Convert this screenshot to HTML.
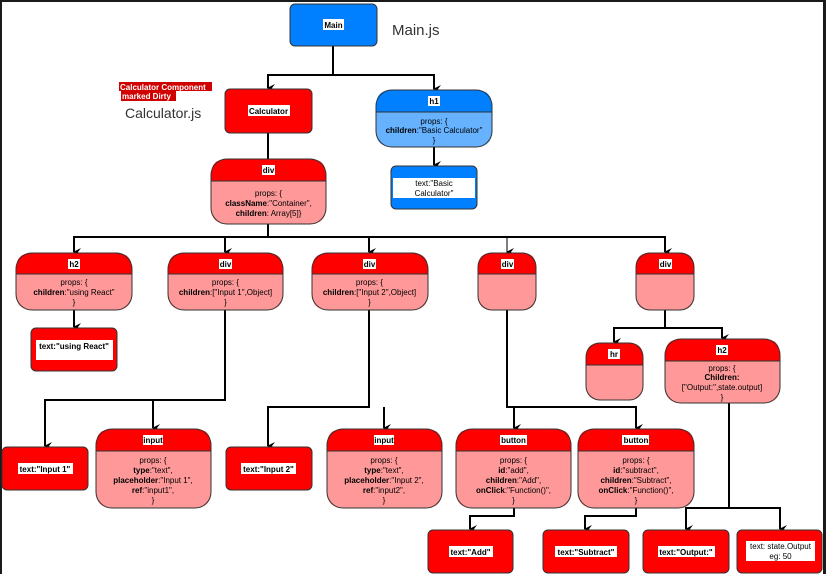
<!DOCTYPE html>
<html><head><meta charset="utf-8">
<style>
html,body{margin:0;padding:0;}
body{width:826px;height:574px;background:#1a1a1a;position:relative;overflow:hidden;font-family:"Liberation Sans",sans-serif;}
#wrap{position:absolute;left:2px;top:2px;width:821px;height:572px;background:#fff;}
svg{position:absolute;left:0;top:0;}
</style></head><body>
<div id="wrap"></div>
<svg width="826" height="574" viewBox="0 0 826 574" font-family="Liberation Sans, sans-serif">
<defs>
<marker id="a" markerWidth="8" markerHeight="8" refX="4" refY="7" orient="auto" markerUnits="userSpaceOnUse"><path d="M0,0 L4,3 L8,0 L4,8 Z" fill="#000"/></marker>
</defs>
<g stroke="#000" stroke-width="2" fill="none">
<path d="M333,46 V75 H268 V88" marker-end="url(#a)"/>
<path d="M333,75 H434 V89" marker-end="url(#a)"/>
<path d="M268,133 V159"/>
<path d="M434,147 V165" marker-end="url(#a)"/>
<path d="M268,224 V237 H74 V252" marker-end="url(#a)"/>
<path d="M268,237 H665 V252" marker-end="url(#a)"/>
<path d="M225,237 V252" marker-end="url(#a)"/>
<path d="M369,237 V252" marker-end="url(#a)"/>
<path d="M507,237 V252" stroke-width="1" marker-end="url(#a)"/>
<path d="M74,310 V327" marker-end="url(#a)"/>
<path d="M225,310 V400 H45 V446" marker-end="url(#a)"/>
<path d="M153,400 V428" marker-end="url(#a)"/>
<path d="M369,310 V407 H268 V446" marker-end="url(#a)"/>
<path d="M384,407 V428" marker-end="url(#a)"/>
<path d="M507,310 V407 H636 V428" marker-end="url(#a)"/>
<path d="M514,407 V428" marker-end="url(#a)"/>
<path d="M514,508 V516 H470 V529" marker-end="url(#a)"/>
<path d="M636,508 V516 H585 V529" marker-end="url(#a)"/>
<path d="M665,310 V328 H614 V342" marker-end="url(#a)"/>
<path d="M665,328 H722 V338" marker-end="url(#a)"/>
<path d="M722,403 V403 M729,403 V508 H686 V529" marker-end="url(#a)"/>
<path d="M729,508 H780 V529" marker-end="url(#a)"/>
</g>

<!-- Main -->
<rect x="290" y="4" width="87" height="42" rx="5" fill="#007fff" stroke="#333"/>
<rect x="323" y="19" width="21" height="11" fill="#fff"/>
<text x="333.5" y="28" font-size="8" font-weight="bold" text-anchor="middle">Main</text>
<text x="392" y="35" font-size="15" fill="#333">Main.js</text>

<!-- Calculator label -->
<rect x="119" y="82" width="93" height="9" fill="#d00000"/>
<rect x="121" y="91" width="55" height="10" fill="#d00000"/>
<text x="120" y="90" font-size="8" font-weight="bold" fill="#fff">Calculator Component</text>
<text x="122" y="99" font-size="8" font-weight="bold" fill="#fff">marked Dirty</text>
<text x="125" y="118" font-size="14" fill="#333">Calculator.js</text>

<rect x="225" y="89" width="87" height="44" rx="5" fill="#ff0000" stroke="#333"/>
<rect x="248" y="105" width="42" height="11" fill="#fff"/>
<text x="268.5" y="114" font-size="8" font-weight="bold" text-anchor="middle">Calculator</text>

<!-- node helper drawn manually -->
<g font-size="8" text-anchor="middle">
<!-- div main -->
<path d="M227,159 H310 Q326,159 326,175 V181 H211 V175 Q211,159 227,159 Z" fill="#ff0000"/>
<path d="M211,181 H326 V208 Q326,224 310,224 H227 Q211,224 211,208 Z" fill="#ff9999"/>
<rect x="211" y="159" width="115" height="65" rx="16" fill="none" stroke="#333"/>
<line x1="211" y1="181" x2="326" y2="181" stroke="#333"/>
<rect x="262" y="165" width="13" height="10" fill="#fff"/><text x="268.5" y="173" font-weight="bold">div</text>
<text x="268.5" y="196">props: {</text>
<text x="268.5" y="206"><tspan font-weight="bold">className</tspan>:"Container",</text>
<text x="268.5" y="216"><tspan font-weight="bold">children</tspan>: Array[5]}</text>

<!-- h1 -->
<path d="M392,90 H476 Q492,90 492,106 V112 H376 V106 Q376,90 392,90 Z" fill="#007fff"/>
<path d="M376,112 H492 V131 Q492,147 476,147 H392 Q376,147 376,131 Z" fill="#66b2ff"/>
<rect x="376" y="90" width="116" height="57" rx="16" fill="none" stroke="#333"/>
<line x1="376" y1="112" x2="492" y2="112" stroke="#333"/>
<rect x="428" y="96" width="12" height="10" fill="#fff"/><text x="434" y="104" font-weight="bold">h1</text>
<text x="434" y="124">props: {</text>
<text x="434" y="133"><tspan font-weight="bold">children</tspan>:"Basic Calculator"</text>
<text x="434" y="143">}</text>

<rect x="391" y="166" width="86" height="43" rx="5" fill="#007fff" stroke="#333"/>
<rect x="393" y="178" width="82" height="20" fill="#fff"/>
<text x="434" y="186">text:"Basic</text>
<text x="434" y="196">Calculator"</text>

<!-- row 2 -->
<path d="M32,253 H116 Q132,253 132,269 V274 H16 V269 Q16,253 32,253 Z" fill="#ff0000"/>
<path d="M16,274 H132 V294 Q132,310 116,310 H32 Q16,310 16,294 Z" fill="#ff9999"/>
<rect x="16" y="253" width="116" height="57" rx="16" fill="none" stroke="#333"/>
<line x1="16" y1="274" x2="132" y2="274" stroke="#333"/>
<rect x="68" y="259" width="12" height="10" fill="#fff"/><text x="74" y="267" font-weight="bold">h2</text>
<text x="74" y="285">props: {</text>
<text x="74" y="295"><tspan font-weight="bold">children</tspan>:"using React"</text>
<text x="74" y="305">}</text>

<path d="M184,253 H267 Q283,253 283,269 V274 H168 V269 Q168,253 184,253 Z" fill="#ff0000"/>
<path d="M168,274 H283 V294 Q283,310 267,310 H184 Q168,310 168,294 Z" fill="#ff9999"/>
<rect x="168" y="253" width="115" height="57" rx="16" fill="none" stroke="#333"/>
<line x1="168" y1="274" x2="283" y2="274" stroke="#333"/>
<rect x="219" y="259" width="13" height="10" fill="#fff"/><text x="225.5" y="267" font-weight="bold">div</text>
<text x="225.5" y="285">props: {</text>
<text x="225.5" y="295"><tspan font-weight="bold">children</tspan>:["Input 1",Object]</text>
<text x="225.5" y="305">}</text>

<path d="M328,253 H412 Q428,253 428,269 V274 H312 V269 Q312,253 328,253 Z" fill="#ff0000"/>
<path d="M312,274 H428 V294 Q428,310 412,310 H328 Q312,310 312,294 Z" fill="#ff9999"/>
<rect x="312" y="253" width="116" height="57" rx="16" fill="none" stroke="#333"/>
<line x1="312" y1="274" x2="428" y2="274" stroke="#333"/>
<rect x="363" y="259" width="13" height="10" fill="#fff"/><text x="369.5" y="267" font-weight="bold">div</text>
<text x="369.5" y="285">props: {</text>
<text x="369.5" y="295"><tspan font-weight="bold">children</tspan>:["Input 2",Object]</text>
<text x="369.5" y="305">}</text>

<path d="M492,253 H522 Q536,253 536,267 V274 H478 V267 Q478,253 492,253 Z" fill="#ff0000"/>
<path d="M478,274 H536 V296 Q536,310 522,310 H492 Q478,310 478,296 Z" fill="#ff9999"/>
<rect x="478" y="253" width="58" height="57" rx="14" fill="none" stroke="#333"/>
<line x1="478" y1="274" x2="536" y2="274" stroke="#333"/>
<rect x="501" y="259" width="13" height="10" fill="#fff"/><text x="507.5" y="267" font-weight="bold">div</text>

<path d="M650,253 H680 Q694,253 694,267 V274 H636 V267 Q636,253 650,253 Z" fill="#ff0000"/>
<path d="M636,274 H694 V296 Q694,310 680,310 H650 Q636,310 636,296 Z" fill="#ff9999"/>
<rect x="636" y="253" width="58" height="57" rx="14" fill="none" stroke="#333"/>
<line x1="636" y1="274" x2="694" y2="274" stroke="#333"/>
<rect x="659" y="259" width="13" height="10" fill="#fff"/><text x="665.5" y="267" font-weight="bold">div</text>

<rect x="31" y="328" width="86" height="43" rx="5" fill="#ff0000" stroke="#333"/>
<rect x="36" y="340" width="77" height="20" fill="#fff"/>
<text x="74" y="349" font-weight="bold">text:"using React"</text>

<!-- hr and h2 -->
<path d="M600,343 H629 Q643,343 643,357 V365 H586 V357 Q586,343 600,343 Z" fill="#ff0000"/>
<path d="M586,365 H643 V386 Q643,400 629,400 H600 Q586,400 586,386 Z" fill="#ff9999"/>
<rect x="586" y="343" width="57" height="57" rx="14" fill="none" stroke="#333"/>
<line x1="586" y1="365" x2="643" y2="365" stroke="#333"/>
<rect x="608" y="349" width="12" height="10" fill="#fff"/><text x="614" y="357" font-weight="bold">hr</text>

<path d="M681,339 H764 Q780,339 780,355 V361 H665 V355 Q665,339 681,339 Z" fill="#ff0000"/>
<path d="M665,361 H780 V387 Q780,403 764,403 H681 Q665,403 665,387 Z" fill="#ff9999"/>
<rect x="665" y="339" width="115" height="64" rx="16" fill="none" stroke="#333"/>
<line x1="665" y1="361" x2="780" y2="361" stroke="#333"/>
<rect x="716" y="345" width="12" height="10" fill="#fff"/><text x="722" y="353" font-weight="bold">h2</text>
<text x="722" y="371">props: {</text>
<text x="722" y="380" font-weight="bold">Children:</text>
<text x="722" y="390">["Output:",state.output]</text>
<text x="722" y="400">}</text>

<!-- row 3 -->
<rect x="2" y="447" width="86" height="43" rx="5" fill="#ff0000" stroke="#333"/>
<rect x="18" y="463" width="55" height="11" fill="#fff"/>
<text x="45" y="472" font-weight="bold">text:"Input 1"</text>

<path d="M112,429 H195 Q211,429 211,445 V451 H96 V445 Q96,429 112,429 Z" fill="#ff0000"/>
<path d="M96,451 H211 V492 Q211,508 195,508 H112 Q96,508 96,492 Z" fill="#ff9999"/>
<rect x="96" y="429" width="115" height="79" rx="16" fill="none" stroke="#333"/>
<line x1="96" y1="451" x2="211" y2="451" stroke="#333"/>
<rect x="143" y="435" width="20" height="10" fill="#fff"/><text x="153" y="443" font-weight="bold">input</text>
<text x="153" y="463">props: {</text>
<text x="153" y="473"><tspan font-weight="bold">type</tspan>:"text",</text>
<text x="153" y="483"><tspan font-weight="bold">placeholder</tspan>:"Input 1",</text>
<text x="153" y="493"><tspan font-weight="bold">ref</tspan>:"input1",</text>
<text x="153" y="503">}</text>

<rect x="226" y="447" width="86" height="43" rx="5" fill="#ff0000" stroke="#333"/>
<rect x="241" y="463" width="55" height="11" fill="#fff"/>
<text x="268.5" y="472" font-weight="bold">text:"Input 2"</text>

<path d="M343,429 H426 Q442,429 442,445 V451 H327 V445 Q327,429 343,429 Z" fill="#ff0000"/>
<path d="M327,451 H442 V492 Q442,508 426,508 H343 Q327,508 327,492 Z" fill="#ff9999"/>
<rect x="327" y="429" width="115" height="79" rx="16" fill="none" stroke="#333"/>
<line x1="327" y1="451" x2="442" y2="451" stroke="#333"/>
<rect x="374" y="435" width="20" height="10" fill="#fff"/><text x="384" y="443" font-weight="bold">input</text>
<text x="384" y="463">props: {</text>
<text x="384" y="473"><tspan font-weight="bold">type</tspan>:"text",</text>
<text x="384" y="483"><tspan font-weight="bold">placeholder</tspan>:"Input 2",</text>
<text x="384" y="493"><tspan font-weight="bold">ref</tspan>:"input2",</text>
<text x="384" y="503">}</text>

<path d="M472,429 H555 Q571,429 571,445 V451 H456 V445 Q456,429 472,429 Z" fill="#ff0000"/>
<path d="M456,451 H571 V492 Q571,508 555,508 H472 Q456,508 456,492 Z" fill="#ff9999"/>
<rect x="456" y="429" width="115" height="79" rx="16" fill="none" stroke="#333"/>
<line x1="456" y1="451" x2="571" y2="451" stroke="#333"/>
<rect x="500" y="435" width="27" height="10" fill="#fff"/><text x="513.5" y="443" font-weight="bold">button</text>
<text x="513.5" y="463">props: {</text>
<text x="513.5" y="473"><tspan font-weight="bold">id</tspan>:"add",</text>
<text x="513.5" y="483"><tspan font-weight="bold">children</tspan>:"Add",</text>
<text x="513.5" y="493"><tspan font-weight="bold">onClick</tspan>:"Function()",</text>
<text x="513.5" y="503">}</text>

<path d="M594,429 H678 Q694,429 694,445 V451 H578 V445 Q578,429 594,429 Z" fill="#ff0000"/>
<path d="M578,451 H694 V492 Q694,508 678,508 H594 Q578,508 578,492 Z" fill="#ff9999"/>
<rect x="578" y="429" width="116" height="79" rx="16" fill="none" stroke="#333"/>
<line x1="578" y1="451" x2="694" y2="451" stroke="#333"/>
<rect x="622" y="435" width="27" height="10" fill="#fff"/><text x="636" y="443" font-weight="bold">button</text>
<text x="636" y="463">props: {</text>
<text x="636" y="473"><tspan font-weight="bold">id</tspan>:"subtract",</text>
<text x="636" y="483"><tspan font-weight="bold">children</tspan>:"Subtract",</text>
<text x="636" y="493"><tspan font-weight="bold">onClick</tspan>:"Function()",</text>
<text x="636" y="503">}</text>

<rect x="428" y="530" width="85" height="43" rx="5" fill="#ff0000" stroke="#333"/>
<rect x="449" y="546" width="44" height="11" fill="#fff"/>
<text x="470.5" y="555" font-weight="bold">text:"Add"</text>

<rect x="543" y="530" width="86" height="43" rx="5" fill="#ff0000" stroke="#333"/>
<rect x="555" y="546" width="62" height="11" fill="#fff"/>
<text x="586" y="555" font-weight="bold">text:"Subtract"</text>

<rect x="643" y="530" width="86" height="43" rx="5" fill="#ff0000" stroke="#333"/>
<rect x="658" y="546" width="57" height="11" fill="#fff"/>
<text x="686" y="555" font-weight="bold">text:"Output:"</text>

<rect x="737" y="530" width="85" height="43" rx="5" fill="#ff0000" stroke="#333"/>
<rect x="746" y="541" width="69" height="20" fill="#fff"/>
<text x="780.5" y="549">text: state.Output</text>
<text x="780.5" y="559">eg: 50</text>
</g>
</svg>
</body></html>
